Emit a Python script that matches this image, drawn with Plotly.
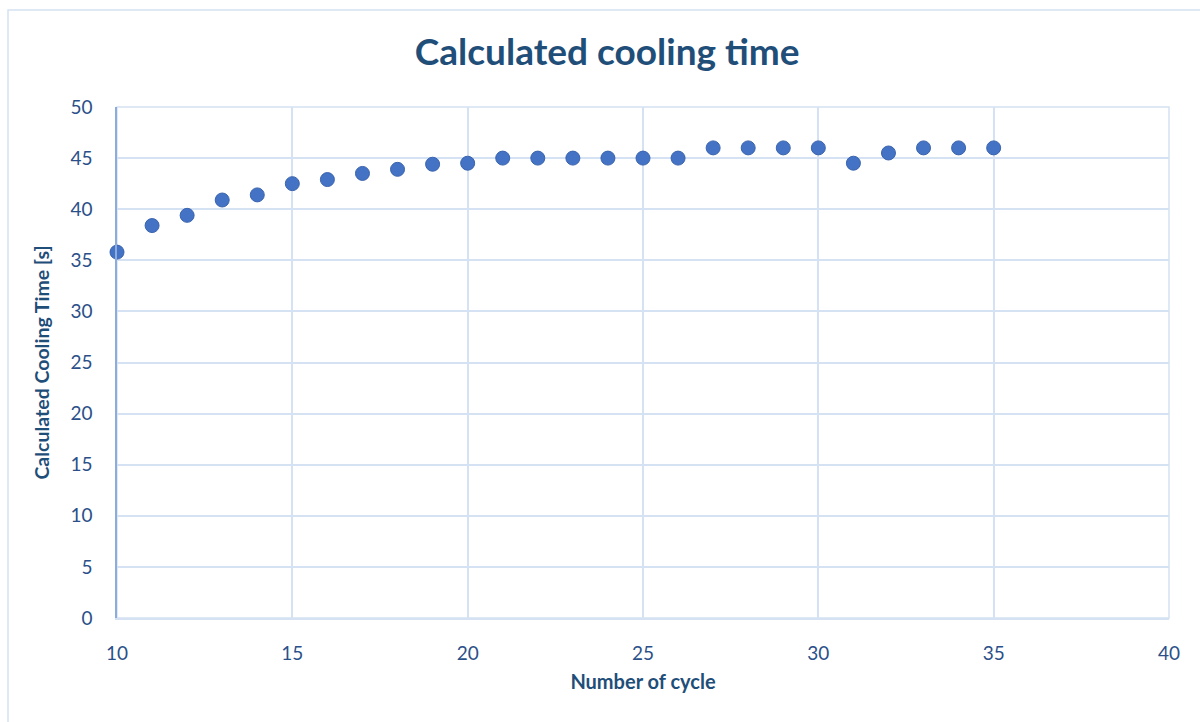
import plotly.graph_objects as go

cycles = list(range(10, 36))
cooling_time = [35.8, 38.4, 39.4, 40.9, 41.4, 42.5, 42.9, 43.5, 43.9, 44.4,
                44.5, 45.0, 45.0, 45.0, 45.0, 45.0, 45.0, 46.0, 46.0, 46.0,
                46.0, 44.5, 45.5, 46.0, 46.0, 46.0]
x_ticks = [10, 15, 20, 25, 30, 35, 40]
y_ticks = [0, 5, 10, 15, 20, 25, 30, 35, 40, 45, 50]

title_color = "#1F4E79"
tick_color = "#2B5089"
grid_color = "#D5E2F4"
font_family = "Lato, 'Open Sans', sans-serif"

fig = go.Figure()
fig.add_trace(go.Scatter(
    x=cycles, y=cooling_time, mode="markers",
    marker=dict(size=14, color="#4472C4", line=dict(width=1, color="#3A64AE")),
    showlegend=False, cliponaxis=False,
))

fig.update_layout(
    width=1200, height=722,
    margin=dict(l=117, r=31, t=107, b=104),
    paper_bgcolor="white", plot_bgcolor="white",
    title=dict(text="<b>Calculated cooling time</b>", x=0.506, xanchor="center",
               y=0.928, yanchor="middle",
               font=dict(family=font_family, size=37, color=title_color)),
    font=dict(family=font_family, color=tick_color),
    xaxis=dict(range=[10, 40], tickvals=x_ticks, showgrid=True, gridcolor=grid_color,
               gridwidth=1.5, zeroline=False, showline=True, linecolor=grid_color,
               linewidth=1.5, mirror=False, ticks="outside", ticklen=17,
               tickcolor="rgba(0,0,0,0)",
               tickfont=dict(size=19, color=tick_color),
               title=dict(text="<b>Number of cycle</b>", standoff=12,
                          font=dict(size=20, color=title_color))),
    yaxis=dict(range=[0, 50], tickvals=y_ticks, showgrid=True, gridcolor=grid_color,
               gridwidth=1.5, zeroline=False, showline=True, linecolor="#8EACDB",
               linewidth=1.5, ticks="outside", ticklen=19,
               tickcolor="rgba(0,0,0,0)",
               tickfont=dict(size=19, color=tick_color),
               title=dict(text="<b>Calculated Cooling Time [s]</b>", standoff=16,
                          font=dict(size=19.5, color=title_color))),
    shapes=[
        dict(type="rect", xref="paper", yref="paper",
             x0=(8 - 117) / 1052, x1=(1200 - 117) / 1052 + 0.05,
             y0=-0.3, y1=(618 - 10) / 511,
             line=dict(color="#D5E2F4", width=1.5), fillcolor="rgba(0,0,0,0)",
             layer="below"),
        dict(type="rect", xref="paper", yref="paper", x0=0, x1=1, y0=0, y1=1,
             line=dict(color=grid_color, width=1.5), fillcolor="rgba(0,0,0,0)",
             layer="below"),
    ],
)

fig.write_html("out.html")
